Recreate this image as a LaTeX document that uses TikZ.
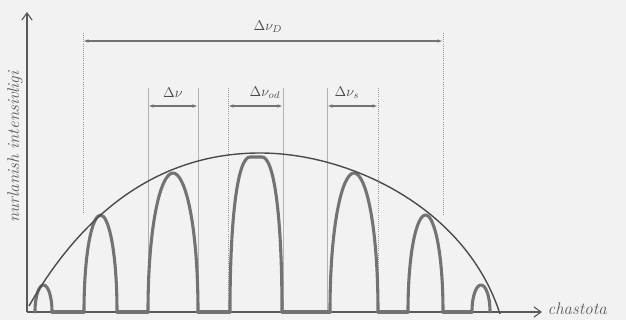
\documentclass[tikz,border=0pt]{standalone}
\usepackage{amsmath}
\usetikzlibrary{arrows.meta,positioning,calc}
\tikzset{
  axisline/.style={draw=black!65, line width=0.8pt, -{Straight Barb[length=1.8mm,width=2.6mm]}},
  spectrum/.style={draw=black!55, line width=2.2pt, line join=round, line cap=round},
  envelope/.style={draw=black!70, line width=1pt},
  dimarrow/.style={{Latex[length=1.4mm,width=0.9mm]}-{Latex[length=1.4mm,width=0.9mm]}, draw=black!55, line width=0.9pt},
  guide/.style={draw=black!30, line width=0.5pt},
  dotguide/.style={draw=black!40, line width=0.5pt, densely dotted},
  dimlabel/.style={font=\normalsize, text=black!70, inner sep=1pt},
  axislabel/.style={font=\itshape, text=black!65, inner sep=1pt}
}

\begin{document}
\begin{tikzpicture}[x=0.025cm, y=-0.025cm]
\useasboundingbox (0,0) rectangle (626,320);
\fill[black!5] (0,0) rectangle (626,320);

% axes
\coordinate (O) at (27,312);
\coordinate (ytip) at (27,12);
\coordinate (xtip) at (542,312);
\draw[axisline] (O) -- (ytip);
\draw[axisline] (O) -- (xtip);
\node[axislabel, rotate=90, font=\itshape\large] (ylabel) at (15,147) {nurlanish intensivligi};
\node[axislabel, anchor=west, font=\itshape\large] (xlabel) at (546,309) {chastota};

% guides
\draw[dotguide] (83,33) -- (83,213);
\draw[dotguide] (443,33) -- (443,215);
\draw[guide] (148,88) -- (148,312);
\draw[guide] (198,88) -- (198,312);
\draw[dotguide] (228,88) -- (228,312);
\draw[guide] (283,88) -- (283,312);
\draw[guide] (327,88) -- (327,312);
\draw[dotguide] (378,88) -- (378,312);

% spectrum
\foreach \xl/\xr/\yt in {35/52/285, 84/117/215, 148/198/173, 330/378/173, 408/443/215, 472/490/285}{
  \pgfmathsetmacro\xc{(\xl+\xr)/2}
  \pgfmathsetmacro\hw{(\xr-\xl)/2}
  \pgfmathsetmacro\ym{312-0.62*(312-\yt)}
  \draw[spectrum] (\xl,312) .. controls (\xl,\ym) and (\xc-0.5*\hw,\yt) .. (\xc,\yt)
    .. controls (\xc+0.5*\hw,\yt) and (\xr,\ym) .. (\xr,312);
}
\draw[spectrum] (230,312) .. controls (230,215) and (238,157) .. (250,157) -- (262,157)
  .. controls (274,157) and (282,215) .. (282,312);
\foreach \xa/\xb in {52/84, 117/148, 198/230, 282/330, 378/408, 443/472}
  \draw[spectrum] (\xa,312) -- (\xb,312);

% envelope
\draw[envelope] (29,306) .. controls (90,200) and (170,153) .. (260,153)
  .. controls (350,153) and (466,208) .. (500,314);

% widths
\coordinate (dl) at (83,41);
\coordinate (dr) at (443,41);
\draw[dimarrow] (dl) -- (dr);
\node[dimlabel] (lblD) at (268,27) {$\Delta\nu_{D}$};

\coordinate (al) at (148,106);
\coordinate (ar) at (198,106);
\draw[dimarrow] (al) -- (ar);
\node[dimlabel] (lblnu) at (173,93) {$\Delta\nu$};

\coordinate (bl) at (228,106);
\coordinate (br) at (283,106);
\draw[dimarrow] (bl) -- (br);
\node[dimlabel] (lblod) at (265,93) {$\Delta\nu_{od}$};

\coordinate (cl) at (327,106);
\coordinate (cr) at (378,106);
\draw[dimarrow] (cl) -- (cr);
\node[dimlabel] (lbls) at (347,93) {$\Delta\nu_{s}$};
\end{tikzpicture}
\end{document}
